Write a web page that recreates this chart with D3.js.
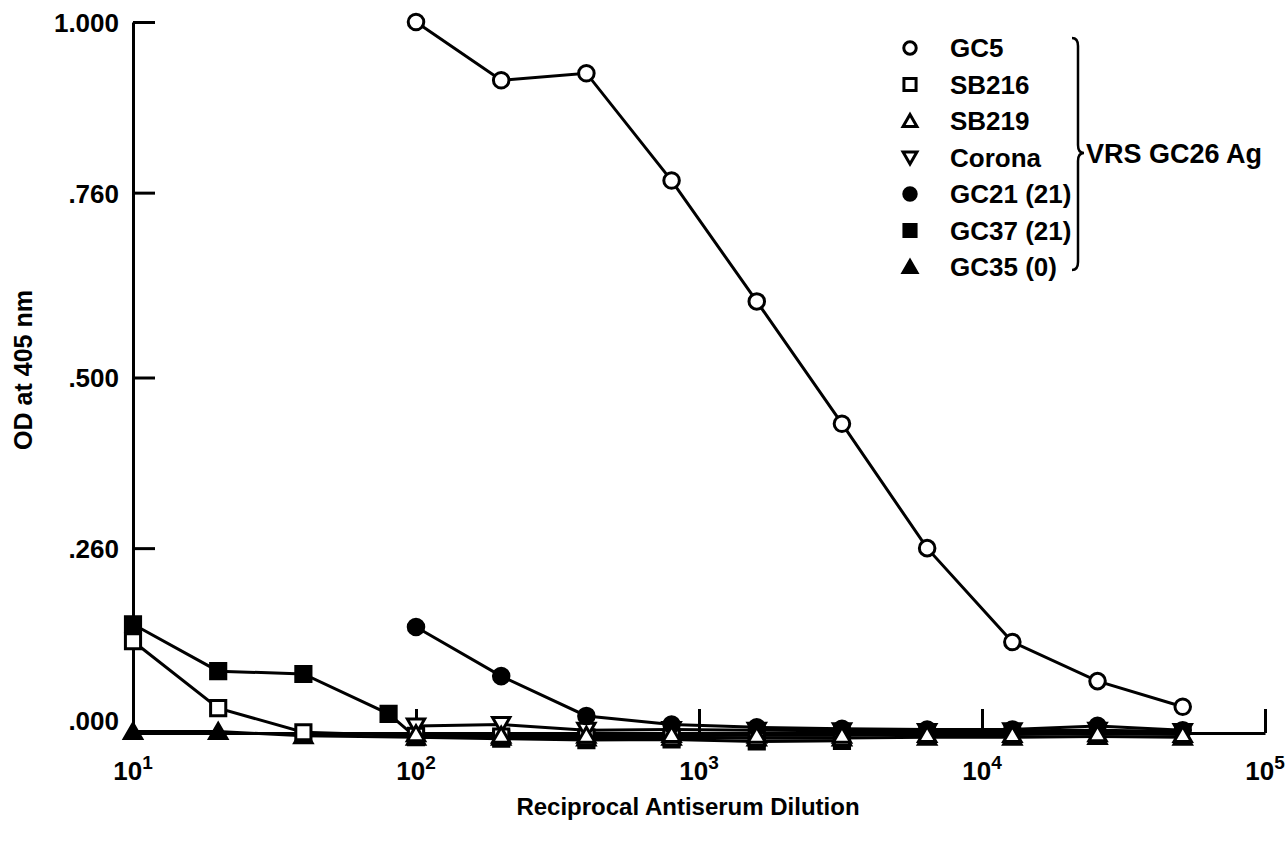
<!DOCTYPE html>
<html lang="en">
<head>
    <meta charset="UTF-8">
    <title>OD at 405 nm vs Reciprocal Antiserum Dilution</title>
    <script src="https://cdn.jsdelivr.net/npm/d3@7"></script>
    <style>
        body {
            margin: 0;
            background-color: #fff;
        }
        svg text {
            font-family: "Liberation Sans", Arial, sans-serif;
            font-weight: bold;
            fill: #000;
        }
    </style>
</head>
<body>
    <svg id="chart" width="1285" height="843"></svg>
    <script>
        // dilution steps (reciprocal)
        const dilLow = [10, 20, 40, 80];
        const dilHigh = [100, 200, 400, 800, 1600, 3200, 6400, 12800, 25600, 51200];

        // OD values
        const gc5 = [1.000, 0.918, 0.928, 0.777, 0.607, 0.435, 0.260, 0.128, 0.073, 0.037];
        const gc21 = [0.149, 0.080, 0.024, 0.012, 0.008, 0.006, 0.005, 0.005, 0.010, 0.004];
        const sb216Low = [0.129, 0.035, 0.001];
        const sb216High = [-0.004, -0.005, -0.006, -0.006, -0.007, -0.007];
        const sb219 = [-0.001, -0.003, -0.003, -0.002, -0.003, -0.003, -0.002, -0.002, -0.001, -0.002];
        const corona = [0.010, 0.012, 0.004, 0.005, 0.004, 0.003, 0.002, 0.003, 0.004, 0.002];
        const gc37Low = [0.153, 0.087, 0.083, 0.027];
        const gc37High = [-0.006, -0.008, -0.010, -0.009, -0.012, -0.011];
        const gc35Low = [0.002, 0.002, -0.004];
        const gc35High = [-0.006, -0.006, -0.007, -0.006, -0.007, -0.007, -0.006, -0.006, -0.005, -0.006];

        const yTicks = [0, 0.26, 0.5, 0.76, 1];
        const xTicks = [10, 100, 1000, 10000, 100000];

        const legendNames = ["GC5", "SB216", "SB219", "Corona", "GC21 (21)", "GC37 (21)", "GC35 (0)"];
        const legendShapes = ["circle", "square", "triangle", "invtriangle", "circle", "square", "triangle"];
        const legendFilled = [false, false, false, false, true, true, true];

        const zip = (xs, ys) => ys.map((v, i) => ({ x: xs[i], y: v }));

        // drawing order: buried markers first, GC5 last
        const series = [
            { name: "GC35 (0)", shape: "triangle", filled: true,
              pts: zip(dilLow, gc35Low).concat(zip(dilHigh, gc35High)) },
            { name: "GC37 (21)", shape: "square", filled: true,
              pts: zip(dilLow, gc37Low).concat(zip(dilHigh, gc37High)) },
            { name: "SB216", shape: "square", filled: false,
              pts: zip(dilLow, sb216Low).concat(zip(dilHigh, sb216High)) },
            { name: "Corona", shape: "invtriangle", filled: false, pts: zip(dilHigh, corona) },
            { name: "GC21 (21)", shape: "circle", filled: true, pts: zip(dilHigh, gc21) },
            { name: "SB219", shape: "triangle", filled: false, pts: zip(dilHigh, sb219) },
            { name: "GC5", shape: "circle", filled: false, pts: zip(dilHigh, gc5) }
        ];

        const svg = d3.select("#chart");

        const x = d3.scaleLog().domain([10, 100000]).range([133, 1265]);
        const y = d3.scaleLinear().domain([0, 1]).range([733, 22]);

        const symbolFor = {
            circle: d3.symbol().type(d3.symbolCircle).size(190),
            square: d3.symbol().type(d3.symbolSquare).size(230),
            triangle: d3.symbol().type(d3.symbolTriangle).size(130),
            invtriangle: d3.symbol().type(d3.symbolTriangle).size(130)
        };

        function drawMarker(g, shape, filled, cx, cy, k) {
            const rot = shape === "invtriangle" ? " rotate(180)" : "";
            const dy = shape === "triangle" ? 2 : (shape === "invtriangle" ? -2 : 0);
            g.append("path")
                .attr("d", symbolFor[shape]())
                .attr("transform", `translate(${cx},${cy + dy * k}) scale(${k})${rot}`)
                .attr("fill", filled ? "#000" : "#fff")
                .attr("stroke", "#000")
                .attr("stroke-width", 3 / k);
        }

        // axes
        const yAxis = d3.axisLeft(y)
            .tickValues(yTicks)
            .tickSize(-22)
            .tickSizeOuter(0)
            .tickPadding(14)
            .tickFormat(d => d === 1 ? "1.000" : d3.format(".3f")(d).replace(/^0/, ""));

        const yg = svg.append("g")
            .attr("transform", "translate(133,0)")
            .call(yAxis);
        yg.select(".domain").attr("stroke-width", 3);
        yg.selectAll(".tick line").attr("stroke-width", 3);
        yg.selectAll(".tick text")
            .style("font-size", "26px")
            .attr("dy", d => d === 0 ? "-0.12em" : "0.36em");

        const xAxis = d3.axisBottom(x)
            .tickValues(xTicks)
            .tickSize(-24)
            .tickSizeOuter(0)
            .tickFormat("");

        const xg = svg.append("g")
            .attr("transform", "translate(0,733)")
            .call(xAxis);
        xg.select(".domain").attr("stroke-width", 3);
        xg.selectAll(".tick line").attr("stroke-width", 3);

        const xLab = svg.append("g").selectAll("text")
            .data(xTicks)
            .join("text")
            .attr("x", d => x(d))
            .attr("y", 780)
            .attr("text-anchor", "middle")
            .style("font-size", "26px");
        xLab.append("tspan").text("10");
        xLab.append("tspan")
            .attr("dy", -11)
            .style("font-size", "19px")
            .text(d => Math.round(Math.log10(d)));

        svg.append("text")
            .attr("x", 688)
            .attr("y", 815)
            .attr("text-anchor", "middle")
            .style("font-size", "24px")
            .text("Reciprocal Antiserum Dilution");

        svg.append("text")
            .attr("transform", "translate(32,370) rotate(-90)")
            .attr("text-anchor", "middle")
            .style("font-size", "25px")
            .text("OD at 405 nm");

        // lines then markers
        const line = d3.line().x(d => x(d.x)).y(d => y(d.y));

        const plot = svg.append("g");
        series.forEach(s => {
            plot.append("path")
                .datum(s.pts)
                .attr("d", line)
                .attr("fill", "none")
                .attr("stroke", "#000")
                .attr("stroke-width", 3);
        });
        series.forEach(s => {
            const g = plot.append("g");
            s.pts.forEach(p => drawMarker(g, s.shape, s.filled, x(p.x), y(p.y), 1));
        });

        // legend
        const legend = svg.append("g");
        legendNames.forEach((name, i) => {
            const cy = 48 + i * 36.5;
            drawMarker(legend, legendShapes[i], legendFilled[i], 910, cy, 0.8);
            legend.append("text")
                .attr("x", 950)
                .attr("y", cy + 9)
                .style("font-size", "26px")
                .text(name);
        });

        // brace
        const bx = 1078, bTop = 38, bMid = 153, bBot = 270;
        legend.append("path")
            .attr("d", `M${bx - 6},${bTop} Q${bx},${bTop} ${bx},${bTop + 8}
                        L${bx},${bMid - 8} Q${bx},${bMid} ${bx + 6},${bMid}
                        Q${bx},${bMid} ${bx},${bMid + 8}
                        L${bx},${bBot - 8} Q${bx},${bBot} ${bx - 6},${bBot}`)
            .attr("fill", "none")
            .attr("stroke", "#000")
            .attr("stroke-width", 2.5);

        legend.append("text")
            .attr("x", 1086)
            .attr("y", bMid + 10)
            .style("font-size", "27px")
            .text("VRS GC26 Ag");
    </script>
</body>
</html>
